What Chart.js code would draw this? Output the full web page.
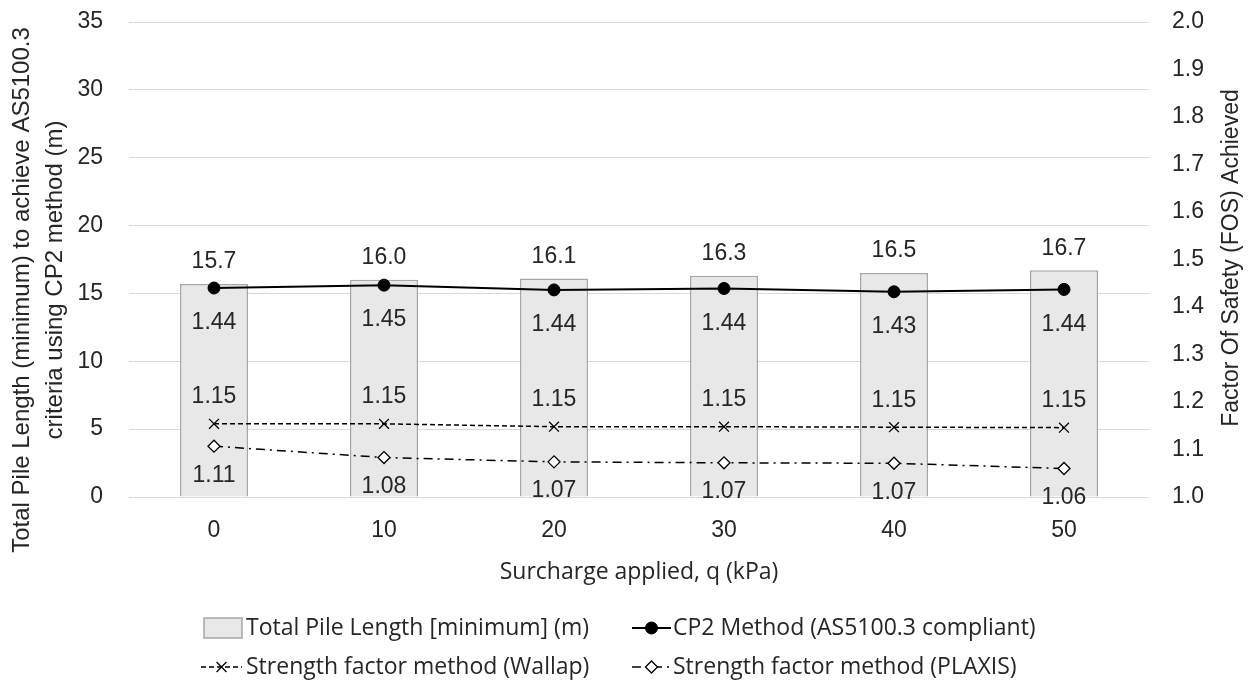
<!DOCTYPE html>
<html><head><meta charset="utf-8">
<script src="https://cdn.jsdelivr.net/npm/chart.js@4.4.1/dist/chart.umd.min.js"></script>
<style>html,body{margin:0;padding:0;background:#fff;overflow:hidden}#wrap{width:1252px;height:687px}</style>
</head><body><div id="wrap"><canvas id="c" width="1252" height="687"></canvas></div>
<script>
const categories = ['0', '10', '20', '30', '40', '50'];
const pileLength = [15.7, 16.0, 16.1, 16.3, 16.5, 16.7];
const cp2FOS = [1.440, 1.446, 1.436, 1.439, 1.432, 1.437];
const wallapFOS = [1.154, 1.154, 1.148, 1.148, 1.147, 1.146];
const plaxisFOS = [1.107, 1.083, 1.074, 1.072, 1.071, 1.060];
const seriesNames = ['Total Pile Length [minimum] (m)', 'CP2 Method (AS5100.3 compliant)', 'Strength factor method (Wallap)', 'Strength factor method (PLAXIS)'];
const xTitle = 'Surcharge applied, q (kPa)';
const yLeftTitle = ['Total Pile Length (minimum) to achieve AS5100.3', 'criteria using CP2 method (m)'];
const yRightTitle = 'Factor Of Safety (FOS) Achieved';

const TICK_FONT = '"Liberation Sans", Arial, sans-serif';
const LEG_FONT = '"Open Sans", sans-serif';
const TXT = '#262626';

const labelPlugin = {
  id: 'labels',
  afterDatasetsDraw(chart) {
    const ctx = chart.ctx;
    ctx.save();
    ctx.fillStyle = TXT;
    ctx.font = '23px ' + TICK_FONT;
    ctx.textAlign = 'center';
    ctx.textBaseline = 'middle';
    chart.data.datasets.forEach((ds, i) => {
      const meta = chart.getDatasetMeta(i);
      meta.data.forEach((el, j) => {
        const v = ds.data[j];
        const txt = ds.labelDigits === 1 ? v.toFixed(1) : v.toFixed(2);
        ctx.fillText(txt, el.x, el.y + ds.labelOffset);
      });
    });
    ctx.restore();
  },
  afterDraw(chart) {
    const ctx = chart.ctx;
    const ca = chart.chartArea;
    ctx.save();
    ctx.fillStyle = TXT;
    ctx.textBaseline = 'middle';
    ctx.textAlign = 'center';
    ctx.font = '23px ' + LEG_FONT;
    ctx.fillText(xTitle, (ca.left + ca.right) / 2, 572);
    ctx.font = '24px ' + TICK_FONT;
    [[22, 290], [55, 280]].forEach((p, k) => {
      ctx.save();
      ctx.translate(p[0], p[1]);
      ctx.rotate(-Math.PI / 2);
      ctx.fillText(yLeftTitle[k], 0, 0);
      ctx.restore();
    });
    ctx.font = '23px ' + TICK_FONT;
    ctx.save();
    ctx.translate(1232, 258);
    ctx.rotate(-Math.PI / 2);
    ctx.fillText(yRightTitle, 0, 0);
    ctx.restore();

    ctx.font = '23px ' + LEG_FONT;
    ctx.textAlign = 'left';
    const ds = chart.data.datasets;
    const rows = [628, 667];
    ctx.fillStyle = ds[0].backgroundColor;
    ctx.strokeStyle = ds[0].borderColor;
    ctx.lineWidth = 1.5;
    ctx.fillRect(204, rows[0] - 10, 38, 20);
    ctx.strokeRect(204, rows[0] - 10, 38, 20);
    const lineSample = (d, x0, x1, y) => {
      ctx.save();
      ctx.strokeStyle = d.borderColor;
      ctx.lineWidth = d.borderWidth;
      ctx.setLineDash(d.borderDash || []);
      ctx.beginPath(); ctx.moveTo(x0, y); ctx.lineTo(x1, y); ctx.stroke();
      ctx.setLineDash([]);
      ctx.fillStyle = d.pointBackgroundColor;
      ctx.strokeStyle = d.pointBorderColor;
      ctx.lineWidth = d.pointBorderWidth;
      Chart.helpers.drawPoint(ctx, {
        pointStyle: d.pointStyle, radius: d.pointRadius, borderWidth: d.pointBorderWidth, rotation: 0
      }, (x0 + x1) / 2, y);
      ctx.restore();
    };
    lineSample(ds[1], 632, 671, rows[0]);
    lineSample(ds[2], 201, 242, rows[1]);
    lineSample(ds[3], 632, 671, rows[1]);
    ctx.fillStyle = TXT;
    ctx.fillText(seriesNames[0], 246, rows[0]);
    ctx.fillText(seriesNames[1], 673, rows[0]);
    ctx.fillText(seriesNames[2], 246, rows[1]);
    ctx.fillText(seriesNames[3], 673, rows[1]);
    ctx.restore();
  }
};

const noPad = (s) => { s.paddingTop = 0; s.paddingBottom = 0; };

new Chart(document.getElementById('c'), {
  type: 'bar',
  data: {
    labels: categories,
    datasets: [
      { type: 'bar', label: seriesNames[0], data: pileLength, yAxisID: 'y',
        backgroundColor: '#e8e8e8', borderColor: '#a6a6a6', borderWidth: 1.5,
        barPercentage: 0.4, categoryPercentage: 1, order: 10, labelOffset: -22, labelDigits: 1 },
      { type: 'line', label: seriesNames[1], data: cp2FOS, yAxisID: 'y1',
        borderColor: '#000', borderWidth: 2, pointStyle: 'circle', pointRadius: 6,
        pointBackgroundColor: '#000', pointBorderColor: '#000', pointBorderWidth: 1,
        order: 1, labelOffset: 35, labelDigits: 2 },
      { type: 'line', label: seriesNames[2], data: wallapFOS, yAxisID: 'y1',
        borderColor: '#000', borderWidth: 1.5, borderDash: [5, 3], pointStyle: 'crossRot', pointRadius: 7,
        pointBackgroundColor: '#000', pointBorderColor: '#000', pointBorderWidth: 1.3,
        order: 2, labelOffset: -27, labelDigits: 2 },
      { type: 'line', label: seriesNames[3], data: plaxisFOS, yAxisID: 'y1',
        borderColor: '#000', borderWidth: 1.5, borderDash: [9, 5, 2, 5], pointStyle: 'rectRot', pointRadius: 6,
        pointBackgroundColor: '#fff', pointBorderColor: '#000', pointBorderWidth: 1.3,
        order: 3, labelOffset: 29, labelDigits: 2 }
    ]
  },
  options: {
    responsive: false,
    animation: false,
    devicePixelRatio: 1,
    layout: { padding: { top: 22, left: 0, right: 0, bottom: 0 } },
    plugins: { legend: { display: false }, tooltip: { enabled: false } },
    scales: {
      x: {
        grid: { display: false, drawTicks: false },
        border: { display: false },
        ticks: { color: TXT, font: { family: TICK_FONT, size: 23 }, padding: 20 },
        afterFit(s) { s.height = 190; }
      },
      y: {
        position: 'left', min: 0, max: 35,
        ticks: { stepSize: 5, color: TXT, font: { family: TICK_FONT, size: 23 }, padding: 26 },
        grid: { color: '#d9d9d9', lineWidth: 1, drawTicks: false },
        border: { display: false },
        afterFit(s) { s.width = 129; noPad(s); }
      },
      y1: {
        position: 'right', min: 1.0, max: 2.0,
        ticks: { stepSize: 0.1, color: TXT, font: { family: TICK_FONT, size: 23 }, padding: 23,
          callback: (v) => Number(v).toFixed(1) },
        grid: { display: false, drawTicks: false },
        border: { display: false },
        afterFit(s) { s.width = 103; noPad(s); }
      }
    }
  },
  plugins: [labelPlugin]
});
</script></body></html>
